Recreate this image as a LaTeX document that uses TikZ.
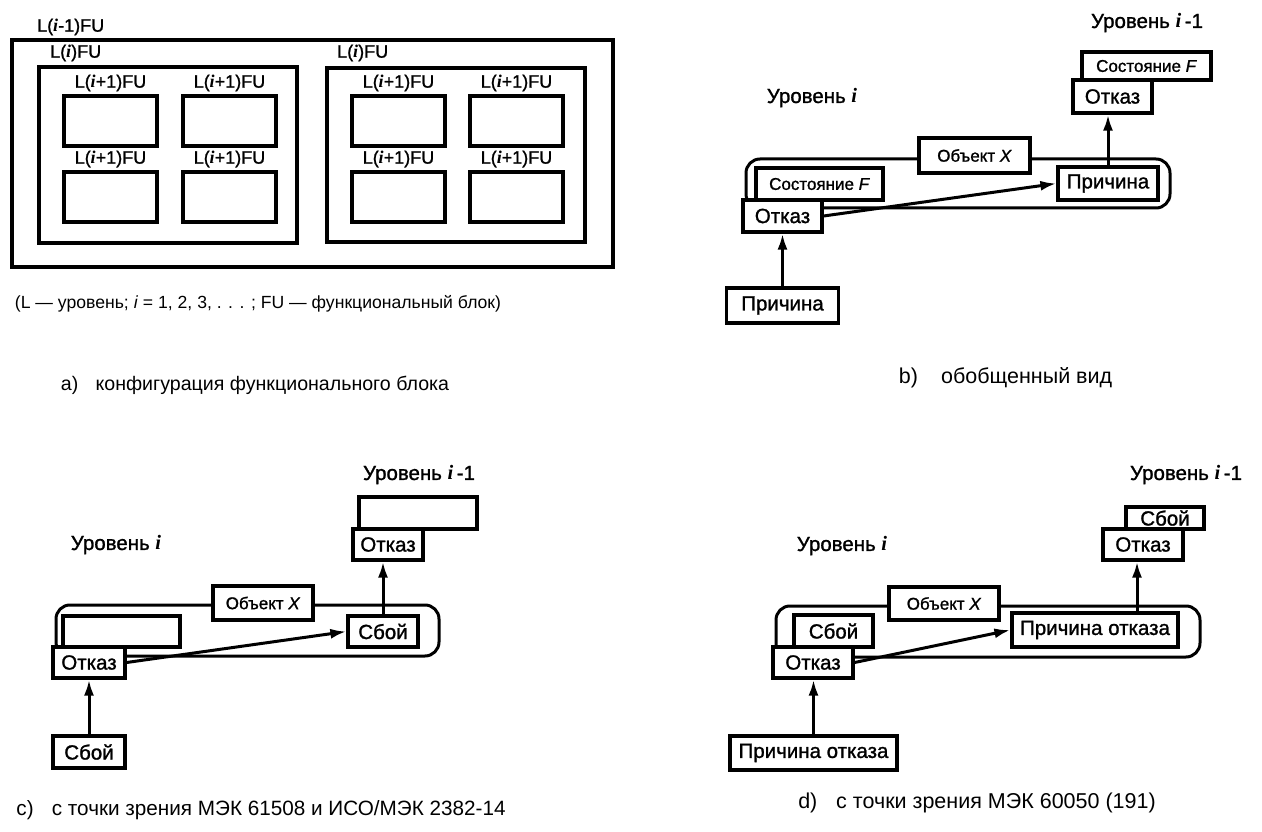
\documentclass[tikz,border=0pt]{standalone}
\usepackage{fontspec}
\setmainfont{Liberation Sans}
\newfontfamily\hv{Liberation Sans}[FakeBold=1.2]
\newfontfamily\serifface{Liberation Serif}
\usetikzlibrary{arrows.meta}
\newcommand{\ii}{{\serifface\itshape\bfseries i}}
\tikzset{
  frame/.style={draw, line width=3.2pt},
  bx/.style={draw, line width=3.2pt, fill=white, inner sep=0pt, font=\hv\fontsize{20.5}{22}\selectfont},
  sbx/.style={draw, line width=3.2pt, fill=white, inner sep=0pt, font=\hv\fontsize{17}{19}\selectfont},
  lvl/.style={inner sep=0pt, font=\hv\fontsize{20.5}{22}\selectfont},
  fu/.style={inner sep=0pt, font=\hv\fontsize{18}{20}\selectfont},
  captxt/.style={inner sep=0pt, font=\fontsize{20}{22}\selectfont},
  arr/.style={line width=3pt, -{Latex[length=16pt,width=10pt]}},
  obj/.style={draw, line width=3pt, rounded corners=14pt},
}
\begin{document}
\begin{tikzpicture}[x=1pt,y=-1pt]
\useasboundingbox (0,0) rectangle (1262,832);

% ---------------- panel a ----------------
\draw[frame] (12,40) rectangle (613,267);
\draw[frame] (39,67) rectangle (297,243);
\draw[frame] (327,68) rectangle (585,242);
\foreach \x in {64,183,352,470}{
  \foreach \y in {96,172}{
    \draw[frame] (\x,\y) rectangle ++(93,50);
    \node[fu] (fu-\x-\y) at (\x+46.5,\y-13) {L(\ii+1)FU};
  }
}
\node[fu, anchor=west] (la0) at (37,27) {L(\ii-1)FU};
\node[fu, anchor=west] (la1) at (50,53) {L(\ii)FU};
\node[fu, anchor=west] (la2) at (337,53) {L(\ii)FU};
\node[captxt, font=\fontsize{17.6}{19}\selectfont] (lega) at (258,304) {(L — уровень; \textit{i} = 1, 2, 3, . . . ; FU — функциональный блок)};
\node[captxt, font=\fontsize{19.6}{21}\selectfont] (capa) at (255,385) {a)\hspace{0.6em} конфигурация функционального блока};

% ---------------- panel b ----------------
\node[lvl] (bl1) at (1147,23) {Уровень \ii\,-1};
\node[lvl] (bl0) at (812,98) {Уровень \ii};
\draw[obj] (746,159) rectangle (1170,208);
\node[sbx, minimum width=129pt, minimum height=28pt] (bst1) at (1146.5,66) {Состояние \textit{F}};
\node[bx, minimum width=79pt, minimum height=33pt] (bot1) at (1112.5,96.5) {Отказ};
\node[sbx, minimum width=111pt, minimum height=35pt] (bobj) at (974.5,155.5) {Объект \textit{X}};
\node[sbx, minimum width=127pt, minimum height=32pt] (bst2) at (819.5,184) {Состояние \textit{F}};
\node[bx, minimum width=79pt, minimum height=32pt] (bot2) at (782.5,216) {Отказ};
\node[bx, minimum width=100pt, minimum height=33pt] (bpr1) at (1108,183.5) {Причина};
\node[bx, minimum width=112pt, minimum height=35pt] (bpr2) at (782.5,305.5) {Причина};
\draw[arr] (bpr2.north) -- (bpr2.north |- bot2.south);
\draw[arr] (bot2.east) -- (bpr1.west);
\draw[arr] (bpr1.north) -- (bpr1.north |- bot1.south);
\node[captxt, font=\fontsize{21.5}{23}\selectfont] (capb) at (1005.5,378) {b)\hspace{0.8em} обобщенный вид};

% ---------------- panel c ----------------
\node[lvl] (cl1) at (419,475) {Уровень \ii\,-1};
\node[lvl] (cl0) at (116,545) {Уровень \ii};
\draw[obj] (56,605) rectangle (439,656);
\node[bx, minimum width=118pt, minimum height=32pt] (cem1) at (418,513) {};
\node[bx, minimum width=70pt, minimum height=31pt] (cot1) at (388,544.5) {Отказ};
\node[sbx, minimum width=100pt, minimum height=34pt] (cobj) at (263,603) {Объект \textit{X}};
\node[bx, minimum width=117pt, minimum height=31pt] (cem2) at (121.5,631.5) {};
\node[bx, minimum width=72pt, minimum height=31pt] (cot2) at (89,662.5) {Отказ};
\node[bx, minimum width=70pt, minimum height=31pt] (csb1) at (383,631.5) {Сбой};
\node[bx, minimum width=72pt, minimum height=32pt] (csb2) at (89,752) {Сбой};
\draw[arr] (csb2.north) -- (cot2.south);
\draw[arr] (cot2.east) -- (csb1.west);
\draw[arr] (csb1.north) -- (csb1.north |- cot1.south);
\node[captxt, font=\fontsize{20.7}{22}\selectfont] (capc) at (261,810) {c)\hspace{0.6em} с точки зрения МЭК 61508 и ИСО/МЭК 2382-14};

% ---------------- panel d ----------------
\node[lvl] (dl1) at (1186,475) {Уровень \ii\,-1};
\node[lvl] (dl0) at (842,546) {Уровень \ii};
\draw[obj] (776,606) rectangle (1200,657);
\node[bx, minimum width=78pt, minimum height=22pt] (dsb1) at (1165,518) {Сбой};
\node[bx, minimum width=80pt, minimum height=31pt] (dot1) at (1143,544.5) {Отказ};
\node[sbx, minimum width=110pt, minimum height=33pt] (dobj) at (944,603.5) {Объект \textit{X}};
\node[bx, minimum width=79pt, minimum height=32pt] (dsb2) at (833.5,631) {Сбой};
\node[bx, minimum width=80pt, minimum height=31pt] (dot2) at (813,662.5) {Отказ};
\node[bx, minimum width=166pt, minimum height=34pt] (dpr1) at (1095,630) {Причина отказа};
\node[bx, minimum width=167pt, minimum height=34pt] (dpr2) at (813.5,753) {Причина отказа};
\draw[arr] (dpr2.north) -- (dpr2.north |- dot2.south);
\draw[arr] (dot2.east) -- (dpr1.west);
\draw[arr] ([xshift=-6pt]dot1.south |- dpr1.north) -- ([xshift=-6pt]dot1.south);
\node[captxt, font=\fontsize{21.5}{23}\selectfont] (capd) at (977,803) {d)\hspace{0.6em} с точки зрения МЭК 60050 (191)};
\end{tikzpicture}
\end{document}
